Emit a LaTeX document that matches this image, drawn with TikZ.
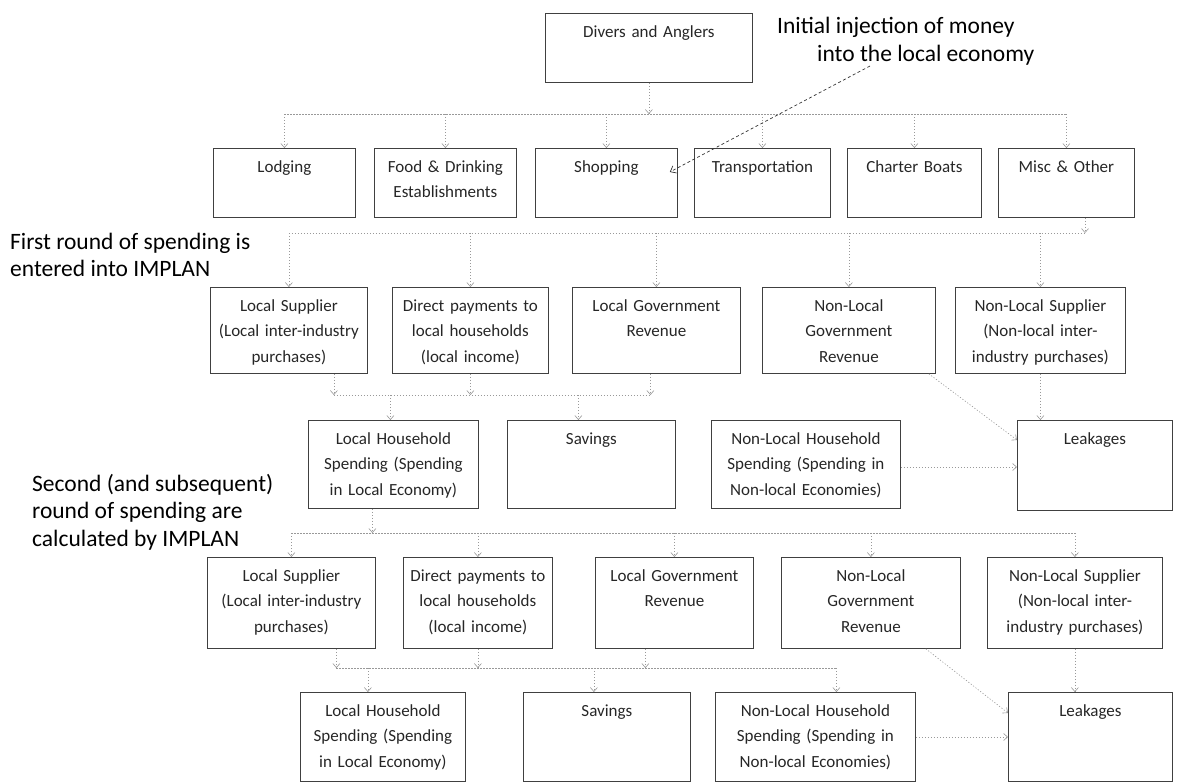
\documentclass[tikz,border=0pt]{standalone}
\usepackage{fontspec}
\setmainfont{Carlito}
\usetikzlibrary{arrows.meta}

\newcommand{\boxfont}{\fontsize{17}{25.5}\selectfont}
\newcommand{\notefont}{\fontsize{23.5}{27.5}\selectfont}

\tikzset{
  cell/.style 2 args={draw=black!75, line width=0.8pt, anchor=north west,
    inner sep=0pt, align=center, font=\boxfont, text=black!85,
    text width=#1pt, text height=24pt, text depth=#2pt},
  note/.style={font=\notefont, align=left, inner sep=0pt, anchor=west},
  link/.style={draw=black!40, line width=0.6pt, dash pattern=on 1.2pt off 1.8pt},
  flow/.style={link, -{Straight Barb[length=4pt,width=7pt]}},
  inj/.style={draw=black!80, line width=0.7pt, dash pattern=on 3pt off 2.5pt,
    -{Straight Barb[length=5pt,width=8pt]}}
}

\begin{document}
\begin{tikzpicture}[x=1pt,y=-1pt]
    \useasboundingbox (0,0) rectangle (1177,782);

    % top box and note
    \node[cell={207}{45}] (divers) at (545,13) {Divers and Anglers};
    \node[note] (inject) at (777,41) {Initial injection of money\\\hspace*{40pt}into the local economy};

    % spending categories
    \node[cell={142}{45}] (lodging) at (213,148) {Lodging};
    \node[cell={142}{45}] (food) at (374,148) {Food \& Drinking\\Establishments};
    \node[cell={142}{45}] (shopping) at (535,148) {Shopping};
    \node[cell={136}{45}] (transport) at (694,148) {Transportation};
    \node[cell={134}{45}] (charter) at (847,148) {Charter Boats};
    \node[cell={136}{45}] (misc) at (998,148) {Misc \& Other};

    \node[note] (first) at (10,255) {First round of spending is\\entered into IMPLAN};
    \node[note] (second) at (32,512) {Second (and subsequent)\\round of spending are\\calculated by IMPLAN};

    % first round
    \node[cell={157}{62}] (ls2) at (210,287) {Local Supplier\\(Local inter-industry\\purchases)};
    \node[cell={156}{62}] (dp2) at (392,287) {Direct payments to\\local households\\(local income)};
    \node[cell={168}{62}] (lg2) at (572,287) {Local Government\\Revenue};
    \node[cell={173}{62}] (nlg2) at (762,287) {Non-Local\\Government\\Revenue};
    \node[cell={170}{62}] (nls2) at (955,287) {Non-Local Supplier\\(Non-local inter-\\industry purchases)};

    \node[cell={170}{64}] (lh3) at (308,420) {Local Household\\Spending (Spending\\in Local Economy)};
    \node[cell={168}{64}] (sav3) at (507,420) {Savings};
    \node[cell={189}{64}] (nlhh3) at (711,420) {Non-Local Household\\Spending (Spending in\\Non-local Economies)};
    \node[cell={155}{66}] (leak3) at (1017,420) {Leakages};

    % second round
    \node[cell={168}{67}] (ls4) at (207,557) {Local Supplier\\(Local inter-industry\\purchases)};
    \node[cell={149}{67}] (dp4) at (403,557) {Direct payments to\\local households\\(local income)};
    \node[cell={158}{67}] (lg4) at (595,557) {Local Government\\Revenue};
    \node[cell={179}{67}] (nlg4) at (781,557) {Non-Local\\Government\\Revenue};
    \node[cell={175}{67}] (nls4) at (987,557) {Non-Local Supplier\\(Non-local inter-\\industry purchases)};

    \node[cell={165}{65}] (lh5) at (300,692) {Local Household\\Spending (Spending\\in Local Economy)};
    \node[cell={167}{65}] (sav5) at (523,692) {Savings};
    \node[cell={200}{65}] (nlhh5) at (715,692) {Non-Local Household\\Spending (Spending in\\Non-local Economies)};
    \node[cell={164}{65}] (leak5) at (1008,692) {Leakages};

    % bus levels
    \coordinate (bus1) at (0,114);
    \coordinate (bus2) at (0,233);
    \coordinate (end2) at (1085,233);
    \coordinate (bus3) at (0,395);
    \coordinate (bus4) at (0,533);
    \coordinate (bus5) at (0,668);

    % divers to categories
    \draw[flow] (divers.south) -- (divers.south |- bus1);
    \draw[link] (lodging.north |- bus1) -- (misc.north |- bus1);
    \draw[flow] (lodging.north |- bus1) -- (lodging.north);
    \draw[flow] (food.north |- bus1) -- (food.north);
    \draw[flow] (shopping.north |- bus1) -- (shopping.north);
    \draw[flow] (transport.north |- bus1) -- (transport.north);
    \draw[flow] (charter.north |- bus1) -- (charter.north);
    \draw[flow] (misc.north |- bus1) -- (misc.north);

    \coordinate (injtail) at (870,66);
    \draw[inj] (injtail) -- ([xshift=-8pt,yshift=-24pt]shopping.north east);

    % categories to first round
    \draw[flow] (misc.south -| end2) -- (end2);
    \draw[link] (ls2.north |- bus2) -- (end2);
    \draw[flow] (ls2.north |- bus2) -- (ls2.north);
    \draw[flow] (dp2.north |- bus2) -- (dp2.north);
    \draw[flow] (lg2.north |- bus2) -- (lg2.north);
    \draw[flow] (nlg2.north |- bus2) -- (nlg2.north);
    \draw[flow] (nls2.north |- bus2) -- (nls2.north);

    % first round to households
    \coordinate (d3a) at ([xshift=45pt]ls2.south);
    \coordinate (d3b) at (dp2.south);
    \coordinate (d3c) at ([xshift=-6pt]lg2.south);
    \coordinate (t3a) at ([xshift=-3pt]lh3.north);
    \coordinate (t3b) at ([xshift=-13pt]sav3.north);
    \draw[flow] (d3a) -- (d3a |- bus3);
    \draw[flow] (d3b) -- (d3b |- bus3);
    \draw[flow] (d3c) -- (d3c |- bus3);
    \draw[link] (d3a |- bus3) -- (d3c |- bus3);
    \draw[flow] (t3a |- bus3) -- (t3a);
    \draw[flow] (t3b |- bus3) -- (t3b);

    \draw[flow] ([xshift=-7pt]nlg2.south east) -- ([yshift=-20pt]leak3.north west);
    \draw[flow] (nls2.south) -- (nls2.south |- leak3.north);
    \draw[flow] ([yshift=-47pt]nlhh3.north east) -- ([yshift=-47pt]leak3.north west);

    % households to second round
    \coordinate (d4) at ([xshift=-21pt]lh3.south);
    \draw[flow] (d4) -- (d4 |- bus4);
    \draw[link] (ls4.north |- bus4) -- (nls4.north |- bus4);
    \draw[flow] (ls4.north |- bus4) -- (ls4.north);
    \draw[flow] (dp4.north |- bus4) -- (dp4.north);
    \draw[flow] (lg4.north |- bus4) -- (lg4.north);
    \draw[flow] (nlg4.north |- bus4) -- (nlg4.north);
    \draw[flow] (nls4.north |- bus4) -- (nls4.north);

    % second round to households
    \coordinate (d5a) at ([xshift=45pt]ls4.south);
    \coordinate (d5b) at (dp4.south);
    \coordinate (d5c) at ([xshift=-29pt]lg4.south);
    \coordinate (t5a) at ([xshift=-15pt]lh5.north);
    \coordinate (t5b) at ([xshift=-13pt]sav5.north);
    \coordinate (t5c) at ([xshift=21pt]nlhh5.north);
    \draw[flow] (d5a) -- (d5a |- bus5);
    \draw[flow] (d5b) -- (d5b |- bus5);
    \draw[flow] (d5c) -- (d5c |- bus5);
    \draw[link] (d5a |- bus5) -- (t5c |- bus5);
    \draw[flow] (t5a |- bus5) -- (t5a);
    \draw[flow] (t5b |- bus5) -- (t5b);
    \draw[flow] (t5c |- bus5) -- (t5c);

    \draw[flow] ([xshift=-35pt]nlg4.south east) -- ([yshift=-21pt]leak5.north west);
    \draw[flow] (nls4.south) -- (nls4.south |- leak5.north);
    \draw[flow] ([yshift=-45pt]nlhh5.north east) -- ([yshift=-45pt]leak5.north west);
\end{tikzpicture}
\end{document}
